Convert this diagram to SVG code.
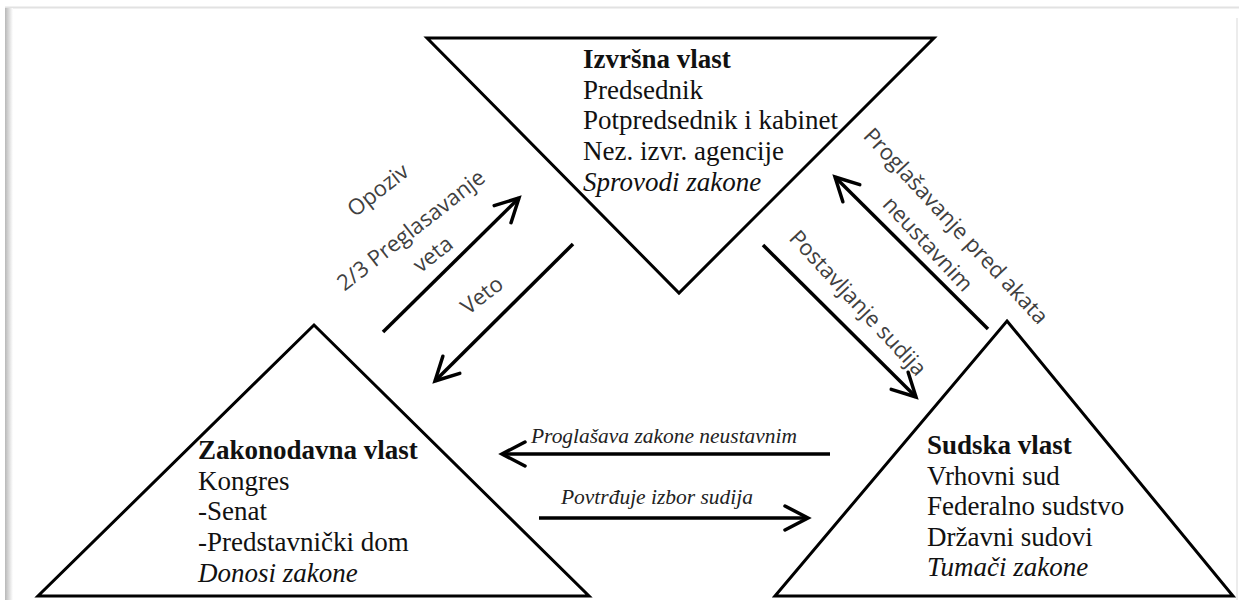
<svg xmlns="http://www.w3.org/2000/svg" width="1239" height="600" viewBox="0 0 1239 600">
<style>
.tri{fill:none;stroke:#000;stroke-width:3;stroke-linejoin:miter}
.conn{fill:none;stroke:#000;stroke-width:3.5;stroke-linecap:butt}
.main{font-family:"Liberation Serif","Times New Roman",serif;font-size:27px;fill:#111}
.title{font-weight:bold}
.it{font-style:italic}
.lbl{font-family:"Liberation Serif","Times New Roman",serif;font-style:italic;font-size:21px;fill:#222}
.rot{font-family:"Open Sans","Noto Sans",sans-serif;font-size:22px;fill:#404040;text-anchor:middle;dominant-baseline:central}
</style>
<defs>
<marker id="ah" markerUnits="userSpaceOnUse" viewBox="-30 -20 40 40" refX="0" refY="0" markerWidth="40" markerHeight="40" orient="auto" overflow="visible">
<path d="M-23,-12 L0,0 L-23,12" fill="none" stroke="#000" stroke-width="3.5" stroke-linecap="round" stroke-linejoin="miter"/>
</marker>
<linearGradient id="edge" x1="0" y1="0" x2="1" y2="0">
<stop offset="0" stop-color="#b8b8b8"/>
<stop offset="1" stop-color="#ffffff"/>
</linearGradient>
</defs>
<rect width="1239" height="600" fill="#fff"/>
<g id="frame">
<line x1="5" y1="7.5" x2="1239" y2="7.5" stroke="#e2e2e2" stroke-width="2"/>
<rect x="5" y="8" width="8" height="592" fill="url(#edge)"/>
<line x1="1237" y1="18" x2="1237" y2="600" stroke="#ececec" stroke-width="2"/>
</g>
<g id="izvrsna">
<polygon class="tri" points="427,38 934,38 679,293"/>
<text class="main title" x="583" y="68">Izvršna vlast</text>
<text class="main" x="583" y="98.7">Predsednik</text>
<text class="main" x="583" y="129.4">Potpredsednik i kabinet</text>
<text class="main" x="583" y="160.1">Nez. izvr. agencije</text>
<text class="main it" x="583" y="190.8">Sprovodi zakone</text>
</g>
<g id="zakonodavna">
<polygon class="tri" points="314,325 589,596 38,596"/>
<text class="main title" x="198" y="459">Zakonodavna vlast</text>
<text class="main" x="198" y="489.7">Kongres</text>
<text class="main" x="198" y="520.4">-Senat</text>
<text class="main" x="198" y="551.1">-Predstavnički dom</text>
<text class="main it" x="198" y="581.8">Donosi zakone</text>
</g>
<g id="sudska">
<polygon class="tri" points="1007,321 1233,596 775,596"/>
<text class="main title" x="927" y="454">Sudska vlast</text>
<text class="main" x="927" y="484.6">Vrhovni sud</text>
<text class="main" x="927" y="515.2">Federalno sudstvo</text>
<text class="main" x="927" y="545.8">Državni sudovi</text>
<text class="main it" x="927" y="576.4">Tumači zakone</text>
</g>
<g id="connectors">
<path class="conn" d="M383,332 L519,198" marker-end="url(#ah)"/>
<path class="conn" d="M573,244 L435,381" marker-end="url(#ah)"/>
<path class="conn" d="M763,245 L916,397" marker-end="url(#ah)"/>
<path class="conn" d="M988,329 L835,177" marker-end="url(#ah)"/>
<path class="conn" d="M830,454 L502,454" marker-end="url(#ah)"/>
<path class="conn" d="M539,518 L808,518" marker-end="url(#ah)"/>
<text class="rot" transform="translate(377,189) rotate(-38)">Opoziv</text>
<text class="rot" transform="translate(410,229) rotate(-38)">2/3 Preglasavanje</text>
<text class="rot" transform="translate(432,253) rotate(-38)">veta</text>
<text class="rot" transform="translate(481,294) rotate(-38)">Veto</text>
<text class="rot" transform="translate(957,225) rotate(47)">Proglašavanje pred akata</text>
<text class="rot" transform="translate(929,243) rotate(47)">neustavnim</text>
<text class="rot" transform="translate(859,302) rotate(47)">Postavljanje sudija</text>
<text class="lbl" x="531" y="443" textLength="266" lengthAdjust="spacingAndGlyphs">Proglašava zakone neustavnim</text>
<text class="lbl" x="561" y="504" textLength="192" lengthAdjust="spacingAndGlyphs">Povtrđuje izbor sudija</text>
</g>
</svg>
